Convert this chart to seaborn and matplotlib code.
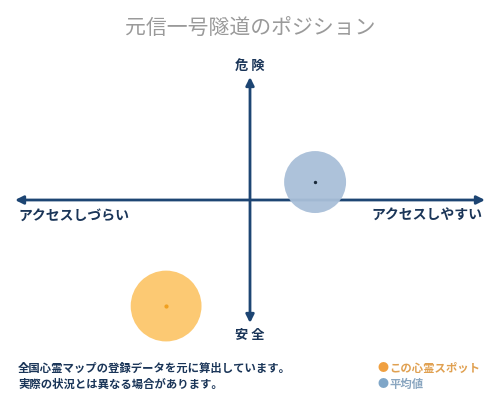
import matplotlib
matplotlib.use("Agg")
import matplotlib.pyplot as plt
import seaborn as sns
import pandas as pd

# position values (x: access, y: danger), range -1..1
spots = ["この心霊スポット", "平均値"]
access = [-0.357, 0.277]
danger = [-0.862, 0.146]
sizes = [2600, 1990]
fill_colors = ["#fcc66b", "#a9bfd8"]
dot_colors = ["#f0a020", "#1a2a3a"]

title = "元信一号隧道のポジション"
axis_labels = {"top": "危 険", "bottom": "安 全",
               "left": "アクセスしづらい", "right": "アクセスしやすい"}
notes = ["全国心霊マップの登録データを元に算出しています。",
         "実際の状況とは異なる場合があります。"]
legend_colors = ["#f0a040", "#7fa6c8"]
legend_text_colors = ["#e0a050", "#8aa6c0"]

sns.set_style("white")
plt.rcParams['font.family'] = ['Noto Sans CJK JP', 'DejaVu Sans']

navy = "#1d4573"
label_col = "#1a3558"

df = pd.DataFrame({"spot": spots, "access": access, "danger": danger})

fig = plt.figure(figsize=(5, 4), dpi=100)
ax = fig.add_axes([0.03, 0.1925, 0.94, 0.615])
ax.set_xlim(-1, 1)
ax.set_ylim(-1, 1)
ax.axis("off")

# axes arrows
ax.annotate("", xy=(-1, 0), xytext=(1, 0),
            arrowprops=dict(arrowstyle="<|-|>", color=navy, lw=2, mutation_scale=12, shrinkA=0, shrinkB=0))
ax.annotate("", xy=(0, 1), xytext=(0, -1),
            arrowprops=dict(arrowstyle="<|-|>", color=navy, lw=2, mutation_scale=12, shrinkA=0, shrinkB=0))

sns.scatterplot(data=df, x="access", y="danger", hue="spot", palette=fill_colors,
                size="spot", sizes={spots[0]: sizes[0], spots[1]: sizes[1]},
                alpha=0.95, edgecolor="none", legend=False, ax=ax, zorder=3)
for coll in ax.collections:
    coll.set_clip_on(False)
for i in range(len(spots)):
    ax.scatter(access[i], danger[i], s=4 if i == 0 else 2, color=dot_colors[i], zorder=4, clip_on=False)

ax.set_xlabel("")
ax.set_ylabel("")

fig.text(0.5, 0.928, title, ha="center", va="center", fontsize=15, color="#9a9a9a")
fig.text(0.5, 0.835, axis_labels["top"], ha="center", va="center", fontsize=9.5, color=label_col, fontweight="bold")
fig.text(0.5, 0.162, axis_labels["bottom"], ha="center", va="center", fontsize=9.5, color=label_col, fontweight="bold")
fig.text(0.036, 0.46, axis_labels["left"], ha="left", va="center", fontsize=10, color=label_col, fontweight="bold")
fig.text(0.964, 0.46, axis_labels["right"], ha="right", va="center", fontsize=10, color=label_col, fontweight="bold")

fig.text(0.036, 0.08, notes[0], ha="left", va="center", fontsize=8.2, color=label_col, fontweight="bold")
fig.text(0.036, 0.04, notes[1], ha="left", va="center", fontsize=8.2, color=label_col, fontweight="bold")

for i, name in enumerate(spots):
    y = 0.08 - i * 0.04
    fig.text(0.754, y, "●", ha="left", va="center", fontsize=8, color=legend_colors[i])
    fig.text(0.778, y, name, ha="left", va="center", fontsize=8.2, color=legend_text_colors[i], fontweight="bold")

fig.savefig("out.png", dpi=100)
